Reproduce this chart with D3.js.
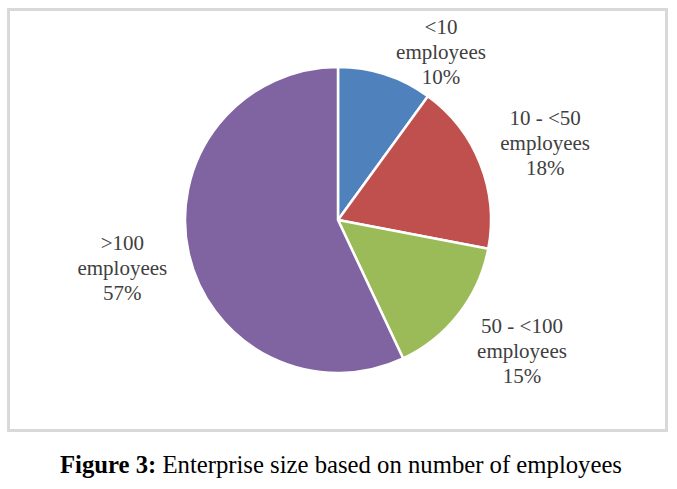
<!DOCTYPE html>
<html>
<head>
<meta charset="utf-8">
<script src="https://cdn.jsdelivr.net/npm/d3@7"></script>
<style>
  body { margin: 0; background: #fff; }
  svg { display: block; }
  text { font-family: "Liberation Serif", "Times New Roman", Times, "DejaVu Serif", serif; }
</style>
</head>
<body>
<div id="chart"></div>
<script>
// Enterprise size pie
const sizeNames = ["<10", "10 - <50", "50 - <100", ">100"];
const shares = [10, 18, 15, 57];
const sliceColors = ["#4f81bd", "#c0504d", "#9bbb59", "#8064a2"];

const width = 677;
const height = 489;
const cx = 338;
const cy = 220;
const radius = 153;

const svg = d3.select("#chart").append("svg").attr("width", width).attr("height", height);

// chart frame
svg.append("rect")
  .attr("x", 8.5).attr("y", 9.5)
  .attr("width", 658).attr("height", 421)
  .attr("fill", "#fff")
  .attr("stroke", "#d9d9d9")
  .attr("stroke-width", 3);

const pie = d3.pie().sort(null).value((d) => d);
const arcs = pie(shares);
const arc = d3.arc().innerRadius(0).outerRadius(radius);

const g = svg.append("g").attr("transform", `translate(${cx},${cy})`);

g.selectAll(".slice")
  .data(arcs)
  .enter()
  .append("path")
  .attr("class", "slice")
  .attr("d", arc)
  .attr("fill", (d, i) => sliceColors[i])
  .attr("stroke", "#fff")
  .attr("stroke-width", 2.5);

// labels sit outside the pie; the first one is pushed round so it clears the edge
const labelRadius = [197, 221, 226, 221];
const labelTurn = [0.236, 0.021, -0.04, 0];

const labels = g.selectAll(".label")
  .data(arcs)
  .enter()
  .append("text")
  .attr("class", "label")
  .attr("text-anchor", "middle")
  .attr("font-size", 21)
  .attr("fill", "#404040")
  .attr("transform", (d, i) => {
    const a = (d.startAngle + d.endAngle) / 2 + labelTurn[i];
    const x = Math.sin(a) * labelRadius[i];
    const y = -Math.cos(a) * labelRadius[i];
    return `translate(${x},${y})`;
  });

labels.each(function (d, i) {
  const lines = [sizeNames[i], "employees", shares[i] + "%"];
  d3.select(this).selectAll("tspan")
    .data(lines)
    .enter()
    .append("tspan")
    .attr("x", 0)
    .attr("y", (t, k) => (k - 1) * 25 + 7)
    .text((t) => t);
});

// caption
const caption = svg.append("text")
  .attr("x", 60)
  .attr("y", 473)
  .attr("font-size", 26)
  .attr("fill", "#000")
  .attr("textLength", 562)
  .attr("lengthAdjust", "spacingAndGlyphs");
caption.append("tspan").attr("font-weight", "bold").text("Figure 3:");
caption.append("tspan").text(" Enterprise size based on number of employees");
</script>
</body>
</html>
